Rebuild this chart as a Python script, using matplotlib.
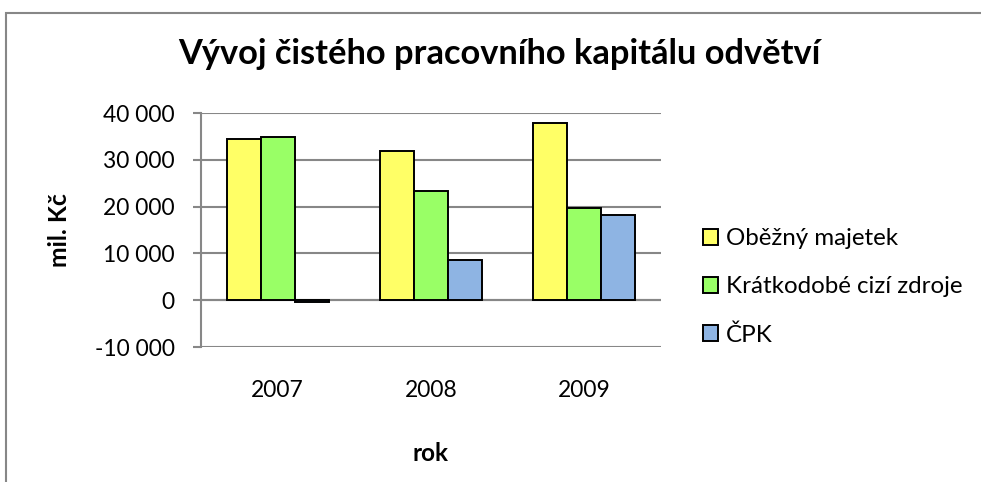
import matplotlib
matplotlib.use('Agg')
from matplotlib import pyplot as plt
from matplotlib.patches import Rectangle
from matplotlib.ticker import FuncFormatter
import numpy as np

roky = ['2007', '2008', '2009']
obezny_majetek = [34500, 31800, 37900]
kratkodobe_zdroje = [34900, 23300, 19800]
cpk = [-400, 8500, 18100]

serie = [('Oběžný majetek', obezny_majetek, '#FFFF66'),
         ('Krátkodobé cizí zdroje', kratkodobe_zdroje, '#99FF66'),
         ('ČPK', cpk, '#8EB4E3')]

TITULEK = 'Vývoj čistého pracovního kapitálu odvětví'
SEDA = '#878787'
W, H = 981, 482

plt.rcParams['font.family'] = ['Lato', 'DejaVu Sans']

fig = plt.figure(figsize=(W / 100, H / 100), dpi=100)
fig.patch.set_facecolor('white')
renderer = fig.canvas.get_renderer()


def velikost_pro_sirku(text, sirka_px, weight='normal'):
    '''Velikost písma, aby text měl danou šířku v pixelech.'''
    t = fig.text(0, 0, text, fontsize=20, fontweight=weight)
    w = t.get_window_extent(renderer).width
    t.remove()
    return 20 * sirka_px / w


fs_title = velikost_pro_sirku(TITULEK, 642, 'bold')
fs_tick = velikost_pro_sirku('40 000', 72)
fs_leg = velikost_pro_sirku('Krátkodobé cizí zdroje', 237)
fs_rok = velikost_pro_sirku('rok', 36, 'bold')
fs_mil = velikost_pro_sirku('mil. Kč', 74, 'bold')

# rámeček grafu (jako v Excelu)
fig.patches.append(Rectangle((6 / W, -0.1), 1.2, 1 - 13 / H + 0.1, transform=fig.transFigure,
                             fill=False, edgecolor=SEDA, linewidth=1.5))

ax = fig.add_axes([201 / W, 1 - 347 / H, 460 / W, 234 / H])

x = np.arange(len(roky))
sirka = 0.667 / 3
for i, (nazev, hodnoty, barva) in enumerate(serie):
    ax.bar(x + (i - 1) * sirka, hodnoty, sirka, color=barva, edgecolor='black',
           linewidth=1.4, label=nazev, zorder=3)

ax.set_xlim(-0.5, 2.5)
ax.set_ylim(-10000, 40000)
ax.set_yticks(range(-10000, 40001, 10000))
ax.yaxis.set_major_formatter(FuncFormatter(lambda v, p: f'{int(v):,}'.replace(',', ' ')))
ax.grid(axis='y', color=SEDA, linewidth=1.5, zorder=0)
ax.axhline(0, color=SEDA, linewidth=1.5, zorder=1)

for s in ['top', 'right', 'bottom']:
    ax.spines[s].set_visible(False)
ax.spines['left'].set_color(SEDA)
ax.spines['left'].set_linewidth(1.5)
ax.tick_params(axis='y', length=5.8, width=1.5, color=SEDA, labelsize=fs_tick, pad=13)
ax.tick_params(axis='x', length=0, labelsize=fs_tick, pad=23.5)
ax.set_xticks(x)
ax.set_xticklabels(roky)

ax.set_xlabel('rok', fontsize=fs_rok, fontweight='bold')
ax.xaxis.set_label_coords(430 / W, 1 - 442 / H, transform=fig.transFigure)
ax.set_ylabel('mil. Kč', fontsize=fs_mil, fontweight='bold')
ax.yaxis.set_label_coords(71 / W, 1 - 230 / H, transform=fig.transFigure)

fig.text(499 / W, 1 - 64 / H, TITULEK, ha='center', va='baseline',
         fontsize=fs_title, fontweight='bold')

ax.legend(loc='center left', bbox_to_anchor=(703 / W, 1 - 287 / H), bbox_transform=fig.transFigure,
          frameon=False, fontsize=fs_leg, handlelength=0.62, handleheight=0.62, handletextpad=0.33,
          labelspacing=1.12, borderpad=0, borderaxespad=0)

plt.savefig('out.png', dpi=100)
